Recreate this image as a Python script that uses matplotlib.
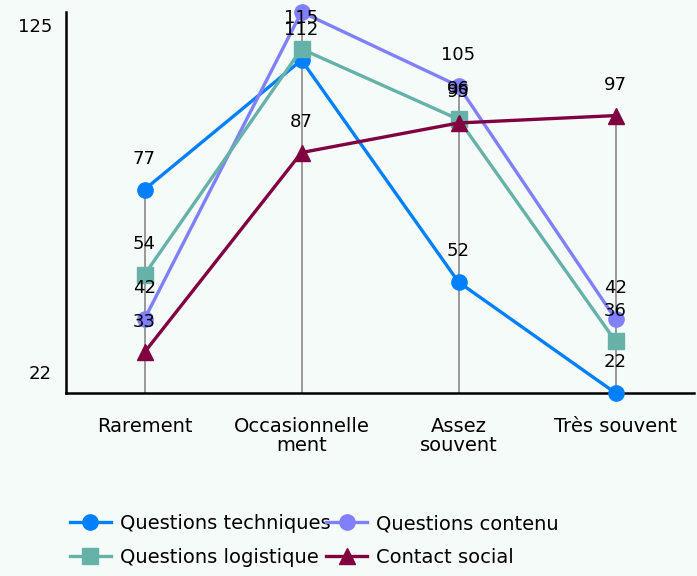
import numpy as np
import matplotlib
matplotlib.use("Agg")
import matplotlib.pyplot as plt
from matplotlib.transforms import ScaledTranslation

plt.rcParams['font.family'] = ['DejaVu Sans']

categories = ["Rarement", "Occasionnelle\nment", "Assez\nsouvent", "Très souvent"]
techniques = [77, 112, 52, 22]
contenu = [42, 125, 105, 42]
logistique = [54, 115, 96, 36]
contact = [33, 87, 95, 97]

series = [
    ("Questions techniques", techniques, "#0080ff", "o"),
    ("Questions contenu", contenu, "#8080ff", "o"),
    ("Questions logistique", logistique, "#66b2a8", "s"),
    ("Contact social", contact, "#800040", "^"),
]

bg = "#f5fbf8"
fig = plt.figure(figsize=(6.97, 5.76), dpi=100, facecolor=bg)
ax = fig.add_axes([66 / 697, 1 - 393 / 576, 628 / 697, 381 / 576])
ax.set_facecolor(bg)

x = np.arange(len(categories))
ymin, ymax = 22, 125

# drop lines up to highest point of each category
tops = np.max([techniques, contenu, logistique, contact], axis=0)
ax.vlines(x, ymin, tops, color="#888888", lw=1.2, zorder=1)

handles = {}
for name, vals, col, mk in series:
    ms = 11 if mk != "^" else 12
    h, = ax.plot(x, vals, color=col, lw=2.4, marker=mk, ms=ms,
                 mec=col, mfc=col, label=name, zorder=3, clip_on=False)
    handles[name] = h
    for xi, v in zip(x, vals):
        if v >= ymax:
            continue  # label would sit above the figure
        ax.annotate(str(v), (xi, v), xytext=(0, 22), textcoords="offset points",
                    ha="center", va="center", fontsize=13, color="black", zorder=4)

ax.set_xlim(-0.5, 3.5)
ax.set_ylim(ymin, ymax)
ax.set_xticks(x)
ax.set_xticklabels(categories, fontsize=14, linespacing=1.0)
ax.set_yticks([ymin, ymax])
ax.set_yticklabels([str(ymin), str(ymax)], fontsize=13)
ax.tick_params(axis="x", length=0, pad=17)
ax.tick_params(axis="y", length=0, pad=10)

# shift y tick labels like the reference
lbls = ax.get_yticklabels()
lbls[0].set_transform(lbls[0].get_transform() + ScaledTranslation(0, 0.21, fig.dpi_scale_trans))
lbls[1].set_transform(lbls[1].get_transform() + ScaledTranslation(0, -0.13, fig.dpi_scale_trans))

for s in ["top", "right"]:
    ax.spines[s].set_visible(False)
ax.spines["left"].set_linewidth(1.8)
ax.spines["bottom"].set_linewidth(1.8)

order = ["Questions techniques", "Questions logistique", "Questions contenu", "Contact social"]
fig.legend(handles=[handles[n] for n in order], loc="upper left",
           bbox_to_anchor=(70 / 697, 1 - 514 / 576),
           ncol=2, frameon=False, fontsize=14, handlelength=2.1, handletextpad=0.45,
           columnspacing=-0.2, labelspacing=0.75, borderpad=0, borderaxespad=0)

fig.savefig("out.png", dpi=100, facecolor=bg)
